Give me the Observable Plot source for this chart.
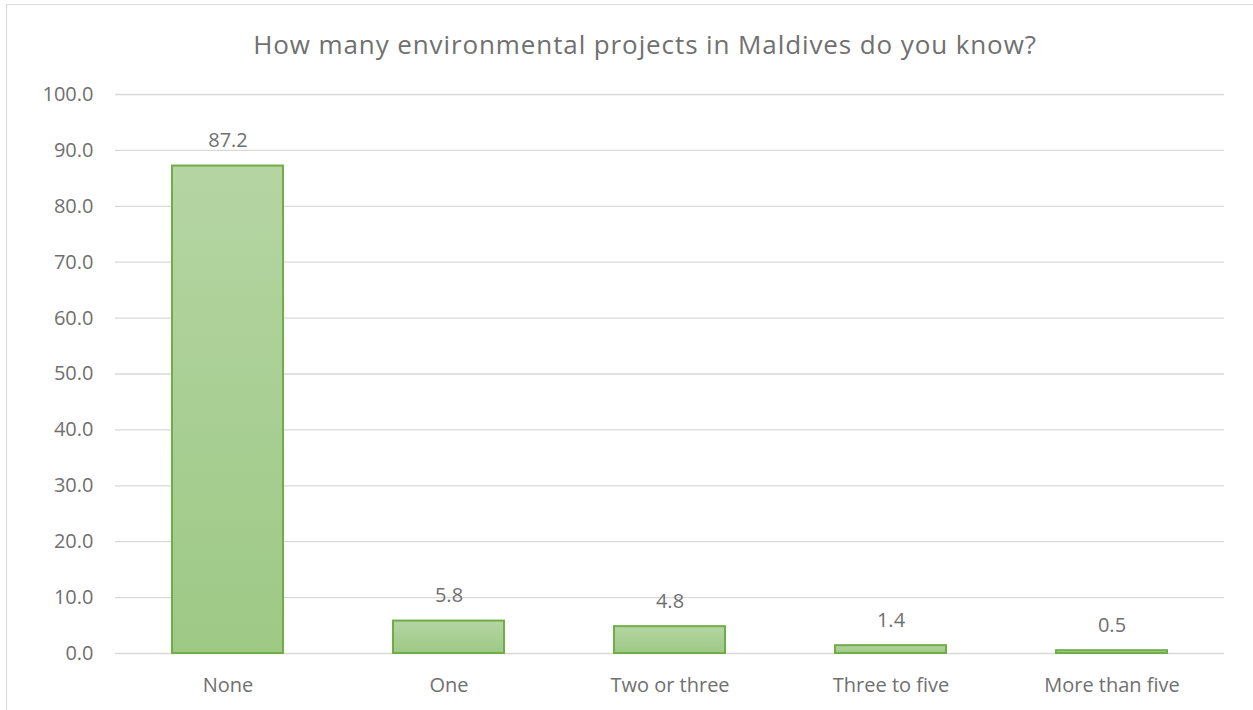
<!DOCTYPE html>
<html>
<head>
<meta charset="utf-8">
<script src="https://cdn.jsdelivr.net/npm/d3@7"></script>
<script src="https://cdn.jsdelivr.net/npm/@observablehq/plot@0.6"></script>
<style>
  body { margin: 0; background: #fff; }
  #wrap { position: relative; width: 1253px; height: 710px; overflow: hidden; font-family: "Open Sans", sans-serif; }
  #frame { position: absolute; left: 6px; top: 4px; width: 1300px; height: 760px; border: 1px solid #d9d9d9; box-sizing: border-box; }
  #title { position: absolute; top: 26px; left: 0; width: 1290px; text-align: center; font-size: 26px; letter-spacing: 0.9px; color: #707070; line-height: 36px; }
  #chart { position: absolute; left: 0; top: 0; }
</style>
</head>
<body>
<div id="wrap">
  <div id="frame"></div>
  <div id="title">How many environmental projects in Maldives do you know?</div>
  <div id="chart"></div>
</div>
<script>
const categories = ["None", "One", "Two or three", "Three to five", "More than five"];
const values = [87.2, 5.8, 4.8, 1.4, 0.5];
const yTicks = [0, 10, 20, 30, 40, 50, 60, 70, 80, 90, 100];

const data = categories.map((c, i) => ({category: c, value: values[i]}));

const plot = Plot.plot({
  width: 1253,
  height: 710,
  marginLeft: 115,
  marginRight: 29,
  marginTop: 94,
  marginBottom: 57,
  style: {fontFamily: "'Open Sans', sans-serif", fontSize: "20px", color: "#707070", background: "transparent"},
  x: {domain: categories, paddingInner: 0.5, paddingOuter: 0.25, label: null, tickSize: 0, tickPadding: 24},
  y: {domain: [0, 100], ticks: yTicks, tickFormat: d => d.toFixed(1), label: null, tickSize: 0, tickPadding: 22},
  marks: [
    Plot.gridY(yTicks, {stroke: "#d9d9d9", strokeOpacity: 1, strokeWidth: 1.3}),
    Plot.barY(data, {x: "category", y: "value", fill: "url(#barGrad)", stroke: "#70ad47", strokeWidth: 2}),
    Plot.text(data, {x: "category", y: "value", text: d => d.value.toFixed(1), dy: -25, fill: "#707070", fontSize: 20})
  ]
});

const defs = d3.select(plot).insert("defs", ":first-child");
const g = defs.append("linearGradient").attr("id", "barGrad").attr("x1", 0).attr("y1", 0).attr("x2", 0).attr("y2", 1);
g.append("stop").attr("offset", "0%").attr("stop-color", "#b5d5a3");
g.append("stop").attr("offset", "100%").attr("stop-color", "#9dc985");

document.getElementById("chart").appendChild(plot);
</script>
</body>
</html>
